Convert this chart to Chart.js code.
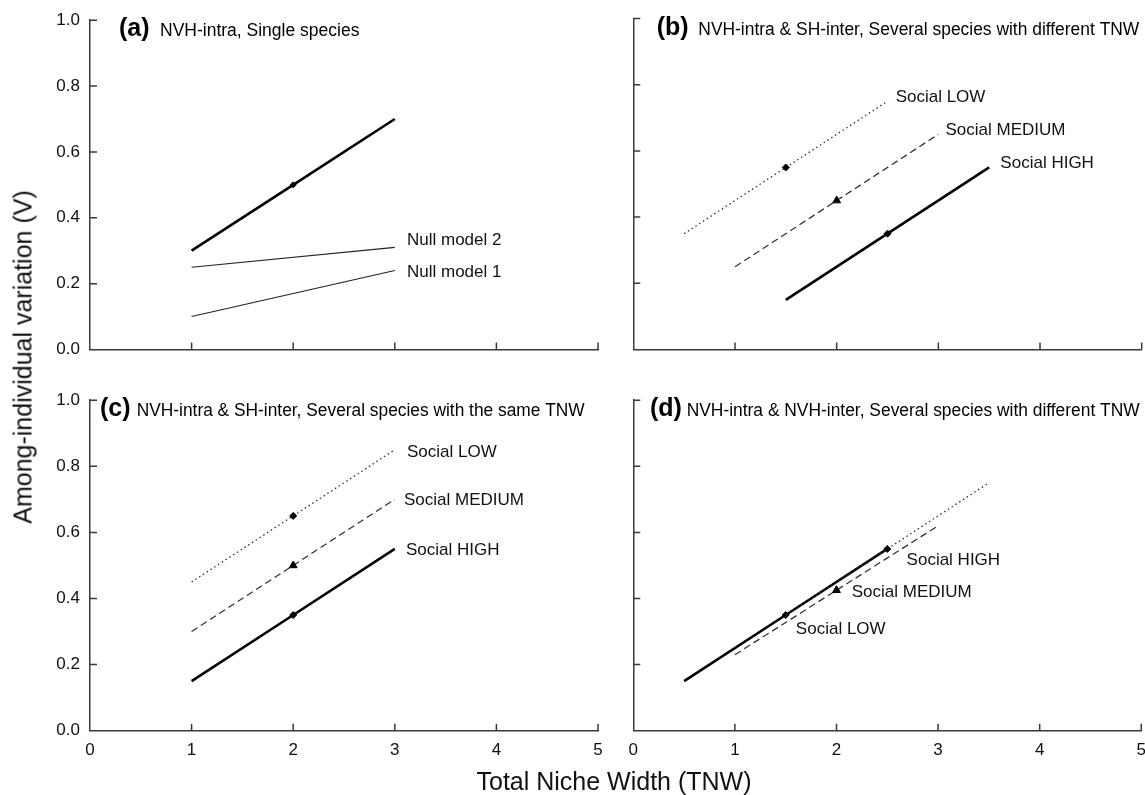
<!DOCTYPE html>
<html>
<head>
<meta charset="utf-8">
<script src="https://cdn.jsdelivr.net/npm/chart.js@4.4.1/dist/chart.umd.min.js"></script>
<style>
  html, body { margin: 0; padding: 0; background: #fff; overflow: hidden; }
  #wrap { position: relative; width: 1145px; height: 795px; }
  canvas { position: absolute; }
  .axis-title { position: absolute; font-family: Arial, "Liberation Sans", sans-serif; font-size: 25px; color: #111; white-space: nowrap; }
</style>
</head>
<body>
<div id="wrap">
  <canvas id="pa" width="615" height="380" style="left:0;top:0"></canvas>
  <canvas id="pb" width="555" height="380" style="left:600px;top:0"></canvas>
  <canvas id="pc" width="615" height="415" style="left:0;top:380px"></canvas>
  <canvas id="pd" width="555" height="415" style="left:600px;top:380px"></canvas>
  <div class="axis-title" style="left:23px;top:357px;transform:translate(-50%,-50%) rotate(-90deg)">Among-individual variation (V)</div>
  <div class="axis-title" style="left:614px;top:781px;transform:translate(-50%,-50%)">Total Niche Width (TNW)</div>
</div>
<script>
const xTicks = [0, 1, 2, 3, 4, 5];
const yTicks = [0, 0.2, 0.4, 0.6, 0.8, 1.0];

// (a) single species
const aX = [1, 2, 3];
const aObserved = [0.3, 0.5, 0.7];
const aNullX = [1, 3];
const aNull2 = [0.25, 0.31];
const aNull1 = [0.1, 0.24];

// (b) different TNW
const bLowX = [0.5, 1.5, 2.5];
const bLow = [0.35, 0.55, 0.75];
const bMedX = [1, 2, 3];
const bMed = [0.25, 0.45, 0.65];
const bHighX = [1.5, 2.5, 3.5];
const bHigh = [0.15, 0.35, 0.55];

// (c) same TNW
const cX = [1, 2, 3];
const cLow = [0.45, 0.65, 0.85];
const cMed = [0.3, 0.5, 0.7];
const cHigh = [0.15, 0.35, 0.55];

// (d) NVH-inter
const dHighX = [0.5, 1.5, 2.5];
const dHigh = [0.15, 0.35, 0.55];
const dMedX = [1, 2, 3];
const dMed = [0.23, 0.425, 0.62];
const dLowX = [1.5, 2.5, 3.5];
const dLow = [0.35, 0.55, 0.75];

const FONT = 'Arial, "Liberation Sans", Helvetica, sans-serif';
const AXIS = '#3a3a3a';

function series(xs, ys, style, radii) {
  return Object.assign({
    data: xs.map((x, i) => ({ x: x, y: ys[i] })),
    showLine: true,
    pointRadius: radii || 0,
    pointBackgroundColor: '#000',
    pointBorderColor: '#000',
    pointBorderWidth: 1
  }, style);
}

const thick = { borderColor: '#000', borderWidth: 2.6, pointStyle: 'rectRot' };
const thin = { borderColor: '#222', borderWidth: 1.1 };
const dotted = { borderColor: '#333', borderWidth: 1.3, borderDash: [1.5, 3], pointStyle: 'rectRot' };
const dashed = { borderColor: '#333', borderWidth: 1.3, borderDash: [7, 4], pointStyle: 'triangle' };

// inward ticks, panel captions and line labels
const panelDecor = {
  id: 'panelDecor',
  afterDraw(chart, args, o) {
    const ctx = chart.ctx, a = chart.chartArea, x = chart.scales.x, y = chart.scales.y;
    ctx.save();
    ctx.strokeStyle = AXIS;
    ctx.lineWidth = 1.5;
    ctx.beginPath();
    x.ticks.forEach(t => {
      if (t.value === 0) return;
      const px = x.getPixelForValue(t.value);
      ctx.moveTo(px, a.bottom);
      ctx.lineTo(px, a.bottom - 7);
    });
    y.ticks.forEach(t => {
      if (t.value === 0) return;
      const py = y.getPixelForValue(t.value);
      ctx.moveTo(a.left, py);
      ctx.lineTo(a.left + 7, py);
    });
    ctx.stroke();

    ctx.fillStyle = '#000';
    ctx.textAlign = 'left';
    ctx.textBaseline = 'alphabetic';
    ctx.font = 'bold 25px ' + FONT;
    ctx.fillText(o.tag, a.left + o.tagDx, a.top + 16);
    ctx.font = '17.5px ' + FONT;
    ctx.fillText(o.title, a.left + o.titleDx, a.top + 16, o.titleW);

    ctx.font = '17px ' + FONT;
    ctx.fillStyle = '#111';
    ctx.textBaseline = 'middle';
    o.labels.forEach(l => ctx.fillText(l.text, x.getPixelForValue(l.x), y.getPixelForValue(l.y)));
    ctx.restore();
  }
};

function panel(id, datasets, opt) {
  return new Chart(document.getElementById(id), {
    type: 'scatter',
    data: { datasets: datasets },
    options: {
      responsive: false,
      animation: false,
      events: [],
      layout: { padding: opt.padding },
      plugins: {
        legend: { display: false },
        tooltip: { enabled: false },
        panelDecor: opt.decor
      },
      scales: {
        x: {
          type: 'linear', min: 0, max: 5,
          afterBuildTicks: s => { s.ticks = xTicks.map(v => ({ value: v })); },
          afterFit: s => { s.height = opt.xH; },
          grid: { display: false, drawTicks: false },
          border: { display: true, color: AXIS, width: 1.5 },
          ticks: { display: opt.xLabels, padding: 9, color: '#111', font: { family: FONT, size: 17 } }
        },
        y: {
          type: 'linear', min: 0, max: 1,
          afterBuildTicks: s => { s.ticks = yTicks.map(v => ({ value: v })); },
          afterFit: s => { s.width = opt.yW; },
          grid: { display: false, drawTicks: false },
          border: { display: true, color: AXIS, width: 1.5 },
          ticks: { display: opt.yLabels, padding: 10, color: '#111', font: { family: FONT, size: 17 },
                   callback: v => v.toFixed(1) }
        }
      }
    },
    plugins: [panelDecor]
  });
}

panel('pa', [
  series(aX, aObserved, thick, [0, 3, 0]),
  series(aNullX, aNull2, thin),
  series(aNullX, aNull1, thin)
], {
  padding: { left: 0, top: 18.5, right: 17, bottom: 0 }, xH: 30.5, yW: 90, xLabels: false, yLabels: true,
  decor: { tag: '(a)', tagDx: 29, title: 'NVH-intra, Single species', titleDx: 70, titleW: 400,
    labels: [
      { text: 'Null model 2', x: 3.12, y: 0.333 },
      { text: 'Null model 1', x: 3.12, y: 0.235 }
    ] }
});

panel('pb', [
  series(bLowX, bLow, dotted, [0, 3.5, 0]),
  series(bMedX, bMed, dashed, [0, 4.5, 0]),
  series(bHighX, bHigh, thick, [0, 3.5, 0])
], {
  padding: { left: 0, top: 18.5, right: 13.3, bottom: 0 }, xH: 30.5, yW: 33.3, xLabels: false, yLabels: false,
  decor: { tag: '(b)', tagDx: 23.4, title: 'NVH-intra & SH-inter, Several species with different TNW', titleDx: 65, titleW: 441,
    labels: [
      { text: 'Social LOW', x: 2.58, y: 0.761 },
      { text: 'Social MEDIUM', x: 3.07, y: 0.663 },
      { text: 'Social HIGH', x: 3.61, y: 0.5625 }
    ] }
});

panel('pc', [
  series(cX, cLow, dotted, [0, 3.5, 0]),
  series(cX, cMed, dashed, [0, 4.5, 0]),
  series(cX, cHigh, thick, [0, 3.5, 0])
], {
  padding: { left: 0, top: 20.2, right: 17, bottom: 0 }, xH: 64.3, yW: 90, xLabels: true, yLabels: true,
  decor: { tag: '(c)', tagDx: 10, title: 'NVH-intra & SH-inter, Several species with the same TNW', titleDx: 46.7, titleW: 448,
    labels: [
      { text: 'Social LOW', x: 3.12, y: 0.842 },
      { text: 'Social MEDIUM', x: 3.09, y: 0.696 },
      { text: 'Social HIGH', x: 3.11, y: 0.545 }
    ] }
});

panel('pd', [
  series(dLowX, dLow, dotted, [0, 3.5, 0]),
  series(dMedX, dMed, dashed, [0, 4.5, 0]),
  series(dHighX, dHigh, thick, [0, 3.5, 0])
], {
  padding: { left: 0, top: 20.2, right: 13.3, bottom: 0 }, xH: 64.3, yW: 33.3, xLabels: true, yLabels: false,
  decor: { tag: '(d)', tagDx: 16.7, title: 'NVH-intra & NVH-inter, Several species with different TNW', titleDx: 53.4, titleW: 453,
    labels: [
      { text: 'Social HIGH', x: 2.69, y: 0.515 },
      { text: 'Social MEDIUM', x: 2.15, y: 0.4175 },
      { text: 'Social LOW', x: 1.6, y: 0.306 }
    ] }
});
</script>
</body>
</html>
